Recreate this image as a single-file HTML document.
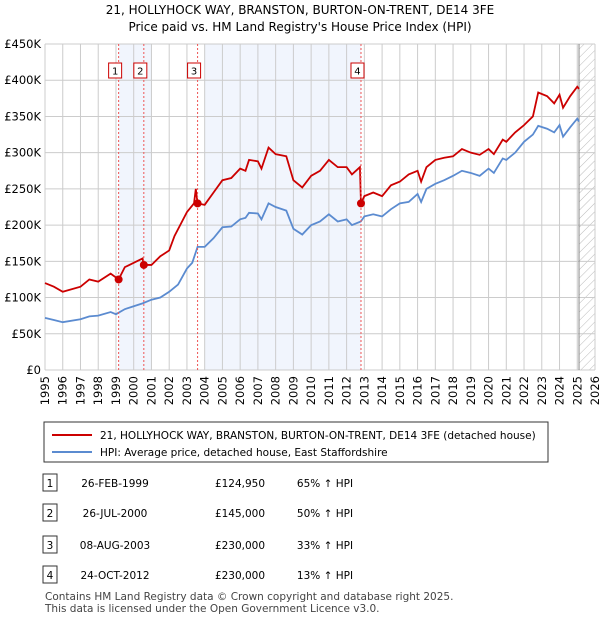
<!DOCTYPE html>
<html><head><meta charset="utf-8"><style>
body{margin:0;background:#fff;font-family:"Liberation Sans","DejaVu Sans",sans-serif;}
svg text{font-family:"DejaVu Sans","Liberation Sans",sans-serif;}
</style></head><body>
<svg id="c" width="600" height="620" xmlns="http://www.w3.org/2000/svg">
<text x="300" y="14" text-anchor="middle" font-size="12">21, HOLLYHOCK WAY, BRANSTON, BURTON-ON-TRENT, DE14 3FE</text>
<text x="300" y="31" text-anchor="middle" font-size="12">Price paid vs. HM Land Registry's House Price Index (HPI)</text>
<defs><pattern id="h" width="6" height="6" patternUnits="userSpaceOnUse" patternTransform="rotate(45)"><line x1="0" y1="0" x2="0" y2="6" stroke="#bbb" stroke-width="1"/></pattern></defs>
<g id="plot"></g>
<rect x="44" y="422" width="504" height="40" fill="#fff" stroke="#333"/>
<line x1="52" y1="435" x2="92" y2="435" stroke="#cc0000" stroke-width="2"/>
<text x="100" y="439" font-size="10.5">21, HOLLYHOCK WAY, BRANSTON, BURTON-ON-TRENT, DE14 3FE (detached house)</text>
<line x1="52" y1="452" x2="92" y2="452" stroke="#5b8bd0" stroke-width="2"/>
<text x="100" y="456" font-size="10.5">HPI: Average price, detached house, East Staffordshire</text>
<g id="tbl" font-size="10.5"></g>
<text x="45" y="600" font-size="10.5" fill="#444">Contains HM Land Registry data © Crown copyright and database right 2025.</text>
<text x="45" y="612" font-size="10.5" fill="#444">This data is licensed under the Open Government Licence v3.0.</text>
</svg>
<script>
const hpiYears=[1995,1995.5,1996,1997,1997.5,1998,1998.7,1999,1999.5,2000,2000.5,2001,2001.5,2002,2002.5,2003,2003.3,2003.6,2004,2004.5,2005,2005.5,2006,2006.3,2006.5,2007,2007.2,2007.6,2008,2008.6,2009,2009.5,2010,2010.5,2011,2011.5,2012,2012.3,2012.8,2013,2013.5,2014,2014.5,2015,2015.5,2016,2016.2,2016.5,2017,2017.5,2018,2018.5,2019,2019.5,2020,2020.3,2020.8,2021,2021.5,2022,2022.5,2022.8,2023.3,2023.7,2024,2024.2,2024.6,2025,2025.1];
const hpiValues=[72,69,66,70,74,75,80,77,84,88,92,97,100,108,118,140,148,170,170,182,197,198,208,210,217,216,208,230,225,220,195,187,200,205,215,205,208,200,205,212,215,212,222,230,232,243,232,250,257,262,268,275,272,268,278,272,292,290,300,315,325,337,333,328,338,322,335,347,343];
const propYears=[1995,1995.5,1996,1997,1997.5,1998,1998.7,1999.15,1999.5,2000,2000.5,2000.57,2001,2001.5,2002,2002.3,2003,2003.4,2003.5,2003.6,2004,2004.5,2005,2005.5,2006,2006.3,2006.5,2007,2007.2,2007.6,2008,2008.6,2009,2009.5,2010,2010.5,2011,2011.5,2012,2012.3,2012.75,2012.81,2013,2013.5,2014,2014.5,2015,2015.5,2016,2016.2,2016.5,2017,2017.5,2018,2018.5,2019,2019.5,2020,2020.3,2020.8,2021,2021.5,2022,2022.5,2022.8,2023.3,2023.7,2024,2024.2,2024.6,2025,2025.1];
const propValues=[120,115,108,115,125,122,133,125,142,148,154,145,145,157,165,185,218,230,250,230,228,245,262,265,278,275,290,288,278,307,298,295,262,252,268,275,290,280,280,270,280,230,240,245,240,255,260,270,275,260,280,290,293,295,305,300,297,305,298,318,315,328,338,350,383,378,368,380,362,378,391,388];
const saleYears=[1999.15,2000.57,2003.6,2012.81];
const saleValues=[124.95,145,230,230];
const saleLabels=["1","2","3","4"];
const saleDates=["26-FEB-1999","26-JUL-2000","08-AUG-2003","24-OCT-2012"];
const salePrices=["£124,950","£145,000","£230,000","£230,000"];
const saleHpi=["65% ↑ HPI","50% ↑ HPI","33% ↑ HPI","13% ↑ HPI"];
const yTicks=[0,50,100,150,200,250,300,350,400,450];
const yTickLabels=["£0","£50K","£100K","£150K","£200K","£250K","£300K","£350K","£400K","£450K"];
const xTicks=[1995,1996,1997,1998,1999,2000,2001,2002,2003,2004,2005,2006,2007,2008,2009,2010,2011,2012,2013,2014,2015,2016,2017,2018,2019,2020,2021,2022,2023,2024,2025,2026];
const X0=45,X1=595,Y0=370,Y1=44;
const xs=y=>X0+(y-1995)*(X1-X0)/31;
const ys=v=>Y0-v*(Y0-Y1)/450;
const NS="http://www.w3.org/2000/svg";
const plot=document.getElementById('plot');
function mk(tag,attrs,parent){const e=document.createElementNS(NS,tag);for(const k in attrs)e.setAttribute(k,attrs[k]);(parent||plot).appendChild(e);return e;}
let r=mk('rect',{x:xs(saleYears[0]),y:Y1,width:xs(2001)-xs(saleYears[0]),height:Y0-Y1,fill:'#eef2fc',opacity:0.8});


r=mk('rect',{x:xs(2004),y:Y1,width:xs(saleYears[3])-xs(2004),height:Y0-Y1,fill:'#eef2fc',opacity:0.8});


r=mk('rect',{x:xs(2025.1),y:Y1,width:X1-xs(2025.1),height:Y0-Y1,fill:'url(#h)'});


yTicks.forEach((t,i)=>{
 const l=mk('line',{x1:X0,x2:X1,y1:ys(t),y2:ys(t),stroke:'#ccc'});
 
 
 const tx=mk('text',{x:X0-4,y:ys(t)+4,'text-anchor':'end','font-size':11.5});
 tx.textContent=yTickLabels[i];
 
 
});
xTicks.forEach(t=>{
 const l=mk('line',{x1:xs(t),x2:xs(t),y1:Y1,y2:Y0,stroke:'#ccc'});
 
 
 const tx=mk('text',{x:0,y:0,'text-anchor':'end','font-size':11.5,transform:`translate(${xs(t)+4},${Y0+6}) rotate(-90)`});
 tx.textContent=t;
 
 
});
let ln=mk('line',{x1:xs(2025.1),x2:xs(2025.1),y1:Y1,y2:Y0,stroke:'#888'});


const hp=mk('polyline',{points:hpiYears.map((y,i)=>xs(y)+','+ys(hpiValues[i])).join(' '),fill:'none',stroke:'#5b8bd0','stroke-width':1.8});


const pp=mk('polyline',{points:propYears.map((y,i)=>xs(y)+','+ys(propValues[i])).join(' '),fill:'none',stroke:'#cc0000','stroke-width':1.8});


saleYears.forEach((y,i)=>{
 const v=mk('line',{x1:xs(y),x2:xs(y),y1:Y1,y2:Y0,stroke:'#e55','stroke-dasharray':'2,2'});
 
 
 const c=mk('circle',{cx:xs(y),cy:ys(saleValues[i]),r:4,fill:'#cc0000'});
 
 
 const b=mk('rect',{x:xs(y)-10,y:63,width:13,height:15,fill:'#fff',stroke:'#cc0000'});
 
 
 const t=mk('text',{x:xs(y)-3.5,y:74.5,'text-anchor':'middle','font-size':10});
 t.textContent=saleLabels[i];
 
 
});
const tbl=document.getElementById('tbl');
const rowY=[483,513,545,575];
saleLabels.forEach((s,i)=>{
 const y=rowY[i];
 const b=mk('rect',{x:43,y:y-9,width:14,height:17,fill:'#fff',stroke:'#333'},tbl);
 
 
 [[50,s,'middle'],[115,saleDates[i],'middle'],[240,salePrices[i],'middle'],[325,saleHpi[i],'middle']].forEach(([x,txt,a],j)=>{
  const t=mk('text',{x:x,y:y+4,'text-anchor':a},tbl);
  t.textContent=txt;
  
  
 });
});
</script>
</body></html>
